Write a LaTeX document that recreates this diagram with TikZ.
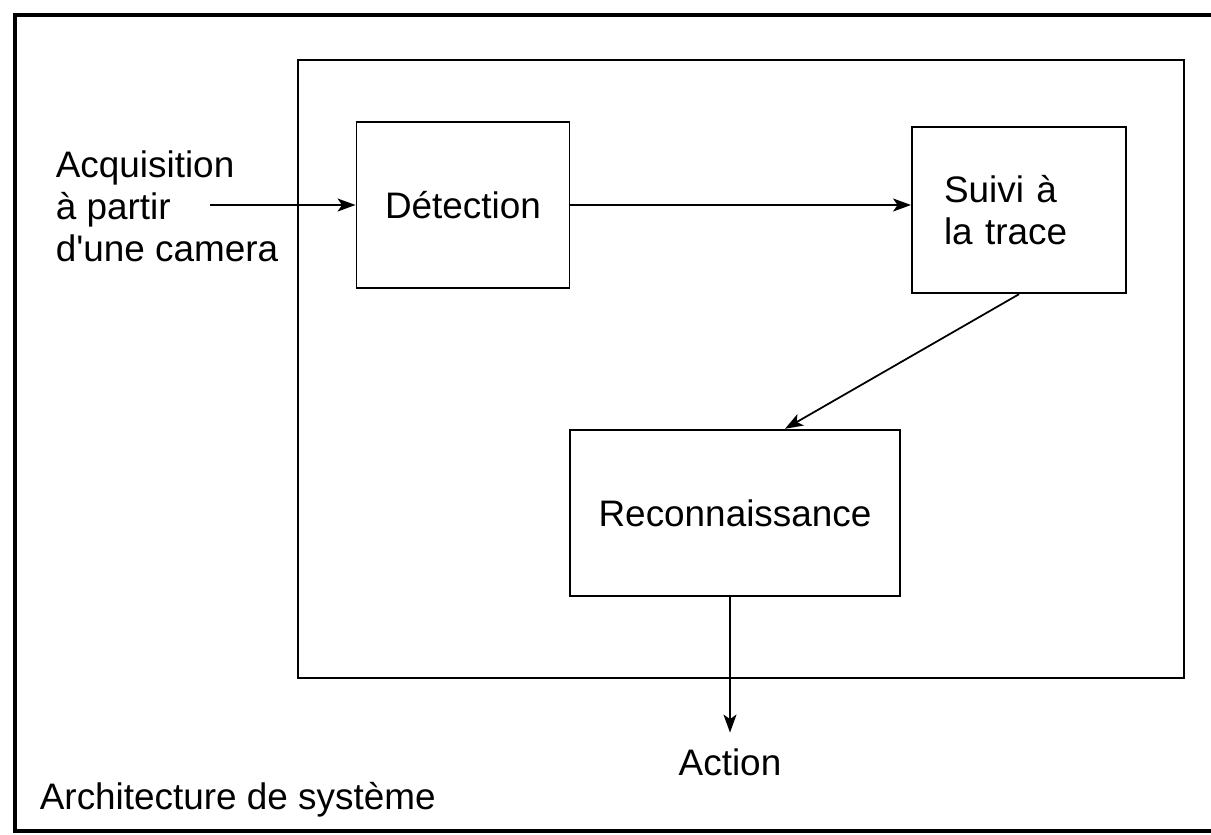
\documentclass[tikz,border=0pt]{standalone}
\usepackage{fontspec}
\setmainfont{Liberation Sans}
\usetikzlibrary{positioning,arrows.meta}
\tikzset{box node/.style={rectangle, draw, line width=1.1pt, minimum height=3.33cm, inner sep=3pt},
  text node/.style={inner sep=0pt, align=left},}

\begin{document}
\begin{tikzpicture}[x=0.02cm, y=-0.02cm, line width=1pt,
    -{Stealth[length=3.6mm, width=2.6mm, inset=0.9mm]},
    every node/.style={font=\fontsize{21}{24}\selectfont}]
        \useasboundingbox (0,0) rectangle (1211,835);
        % Frame
        \draw[-, line width=1.9pt] (1211,15) -- (15,15) -- (15,831) -- (1211,831);
        \node[draw, line width=1.1pt, minimum width=17.74cm, minimum height=12.36cm] (sys) at (741,369) {};
        % Nodes
        \node[box node, minimum width=4.26cm] (det) at (463,205) {Détection};
        \node[box node, minimum width=4.28cm, text width=3cm, align=left] (suivi) at (1019,210) {Suivi à\\la trace};
        \node[box node, minimum width=6.6cm] (reco) at (735,513) {Reconnaissance};
        \node[text node, anchor=west] (acq) at (55,206) {Acquisition\\à partir\\d\textquotesingle une camera};
        \node[text node] (action) at (730,762) {Action};
        \node[text node, anchor=west] (archi) at (39,800) {Architecture de système};
        \coordinate (acqend) at (210,205);
        % Paths
        \draw (acqend) -- (det.west);
        \draw (det.east) -- (det.east -| suivi.west);
        \draw (suivi.south) -- ([xshift=1cm]reco.north);
        \draw (action.north |- reco.south) -- ([yshift=3mm]action.north);
    \end{tikzpicture}
\end{document}
